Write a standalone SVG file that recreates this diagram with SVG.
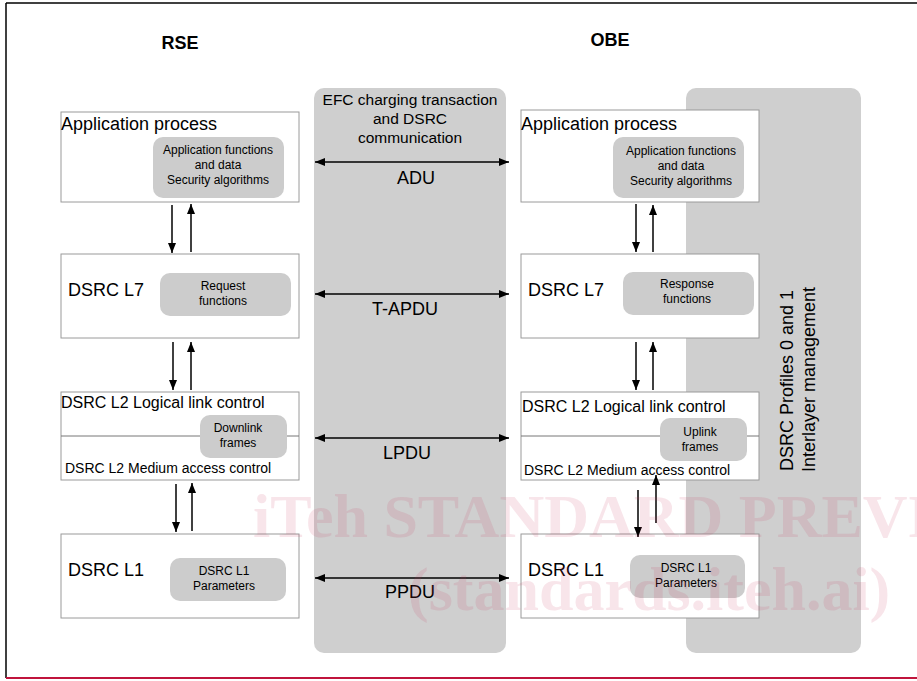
<svg xmlns="http://www.w3.org/2000/svg" width="917" height="681" viewBox="0 0 917 681">
<style>
text{font-family:"Liberation Sans",Arial,sans-serif;fill:#000}
.box{fill:#fff;stroke:#9a9a9a;stroke-width:1}
.inner{fill:#cccccc;stroke:none}
.panel{fill:#cfcfcf;stroke:none}
.t18{font-size:18px}
.t16{font-size:16px}
.t14{font-size:14px}
.t12{font-size:12px;text-anchor:middle}
.mid{text-anchor:middle}
.conn line{stroke:#000;stroke-width:1.5}
.wm{font-family:"Liberation Serif","Times New Roman",serif;font-weight:bold;font-size:62px;fill:#c8385a;fill-opacity:0.13}
</style>
<defs>
<marker id="ah" markerUnits="userSpaceOnUse" markerWidth="10" markerHeight="8" refX="10" refY="4" orient="auto-start-reverse">
<path d="M0,0 L10,4 L0,8 z" fill="#000"/>
</marker>
</defs>
<rect x="0" y="0" width="917" height="681" fill="#fff"/>
<g id="frame">
<line x1="6" y1="3" x2="917" y2="3" stroke="#000" stroke-width="1.5"/>
<line x1="6" y1="3" x2="6" y2="678" stroke="#000" stroke-width="1.5"/>
<line x1="6" y1="678" x2="917" y2="678" stroke="#c0143c" stroke-width="2"/>
</g>
<g id="titles">
<text x="180" y="49" class="mid" style="font-size:18px;font-weight:bold">RSE</text>
<text x="610" y="46" class="mid" style="font-size:18px;font-weight:bold">OBE</text>
</g>
<g id="channel">
<rect class="panel" x="314" y="88" width="192" height="565" rx="10"/>
<text x="410" y="105" class="mid" style="font-size:15.5px">EFC charging transaction</text>
<text x="410" y="124" class="mid" style="font-size:15.5px">and DSRC</text>
<text x="410" y="143" class="mid" style="font-size:15.5px">communication</text>
</g>
<g id="mgmt">
<rect class="panel" x="686" y="88" width="175" height="565" rx="10"/>
<text transform="translate(793,471) rotate(-90)" class="t18">DSRC Profiles 0 and 1</text>
<text transform="translate(815,472) rotate(-90)" class="t18">Interlayer management</text>
</g>
<g id="rse-app">
<rect class="box" x="61" y="112" width="238" height="90"/>
<text x="61" y="130" class="t18">Application process</text>
<rect class="inner" x="153" y="137" width="131" height="61" rx="10"/>
<text x="218" y="154" class="t12">Application functions</text>
<text x="218" y="169" class="t12">and data</text>
<text x="218" y="184" class="t12">Security algorithms</text>
</g>
<g id="rse-l7">
<rect class="box" x="61" y="254" width="238" height="84"/>
<text x="68" y="296" class="t18">DSRC L7</text>
<rect class="inner" x="160" y="273" width="131" height="43" rx="10"/>
<text x="223" y="290" class="t12">Request</text>
<text x="223" y="305" class="t12">functions</text>
</g>
<g id="rse-l2">
<rect class="box" x="61" y="392" width="238" height="88"/>
<line x1="61" y1="436" x2="299" y2="436" stroke="#777" stroke-width="1"/>
<text x="61" y="408" class="t16">DSRC L2 Logical link control</text>
<rect class="inner" x="200" y="415" width="87" height="43" rx="10"/>
<text x="238" y="432" class="t12">Downlink</text>
<text x="238" y="447" class="t12">frames</text>
<text x="65" y="473" class="t14">DSRC L2 Medium access control</text>
</g>
<g id="rse-l1">
<rect class="box" x="61" y="534" width="238" height="84"/>
<text x="68" y="576" class="t18">DSRC L1</text>
<rect class="inner" x="170" y="558" width="116" height="43" rx="10"/>
<text x="224" y="575" class="t12">DSRC L1</text>
<text x="224" y="590" class="t12">Parameters</text>
</g>
<g id="obe-app">
<rect class="box" x="521" y="110" width="238" height="92"/>
<text x="521" y="130" class="t18">Application process</text>
<rect class="inner" x="613" y="137" width="131" height="61" rx="10"/>
<text x="681" y="155" class="t12">Application functions</text>
<text x="681" y="170" class="t12">and data</text>
<text x="681" y="185" class="t12">Security algorithms</text>
</g>
<g id="obe-l7">
<rect class="box" x="521" y="254" width="238" height="84"/>
<text x="528" y="296" class="t18">DSRC L7</text>
<rect class="inner" x="623" y="272" width="131" height="43" rx="10"/>
<text x="687" y="288" class="t12">Response</text>
<text x="687" y="303" class="t12">functions</text>
</g>
<g id="obe-l2">
<rect class="box" x="521" y="392" width="238" height="88"/>
<line x1="521" y1="436" x2="759" y2="436" stroke="#777" stroke-width="1"/>
<text x="522" y="412" class="t16">DSRC L2 Logical link control</text>
<rect class="inner" x="660" y="418" width="87" height="43" rx="10"/>
<text x="700" y="436" class="t12">Uplink</text>
<text x="700" y="451" class="t12">frames</text>
<text x="524" y="475" class="t14">DSRC L2 Medium access control</text>
</g>
<g id="obe-l1">
<rect class="box" x="521" y="534" width="238" height="84"/>
<text x="528" y="576" class="t18">DSRC L1</text>
<rect class="inner" x="630" y="555" width="115" height="43" rx="10"/>
<text x="686" y="572" class="t12">DSRC L1</text>
<text x="686" y="587" class="t12">Parameters</text>
</g>
<g id="connectors" class="conn">
<line x1="315" y1="162" x2="509" y2="162" marker-start="url(#ah)" marker-end="url(#ah)"/>
<line x1="315" y1="294" x2="509" y2="294" marker-start="url(#ah)" marker-end="url(#ah)"/>
<line x1="315" y1="438" x2="509" y2="438" marker-start="url(#ah)" marker-end="url(#ah)"/>
<line x1="315" y1="578" x2="509" y2="578" marker-start="url(#ah)" marker-end="url(#ah)"/>
<line x1="172" y1="205" x2="172" y2="253" marker-end="url(#ah)"/>
<line x1="191" y1="252" x2="191" y2="204" marker-end="url(#ah)"/>
<line x1="173" y1="342" x2="173" y2="390" marker-end="url(#ah)"/>
<line x1="191" y1="390" x2="191" y2="342" marker-end="url(#ah)"/>
<line x1="176" y1="484" x2="176" y2="532" marker-end="url(#ah)"/>
<line x1="192" y1="531" x2="192" y2="483" marker-end="url(#ah)"/>
<line x1="636" y1="204" x2="636" y2="252" marker-end="url(#ah)"/>
<line x1="653" y1="252" x2="653" y2="205" marker-end="url(#ah)"/>
<line x1="636" y1="342" x2="636" y2="390" marker-end="url(#ah)"/>
<line x1="653" y1="390" x2="653" y2="342" marker-end="url(#ah)"/>
<line x1="638" y1="490" x2="638" y2="537" marker-end="url(#ah)"/>
<line x1="656" y1="523" x2="656" y2="475" marker-end="url(#ah)"/>
</g>
<g id="connector-labels">
<text x="416" y="184" class="t18 mid">ADU</text>
<text x="405" y="315" class="t18 mid">T-APDU</text>
<text x="407" y="459" class="t18 mid">LPDU</text>
<text x="410" y="598" class="t18 mid">PPDU</text>
</g>
<g id="watermark">
<text x="253" y="537" class="wm">iTeh STANDARD PREVIEW</text>
<text x="408" y="610" class="wm">(standards.iteh.ai)</text>
</g>
</svg>
